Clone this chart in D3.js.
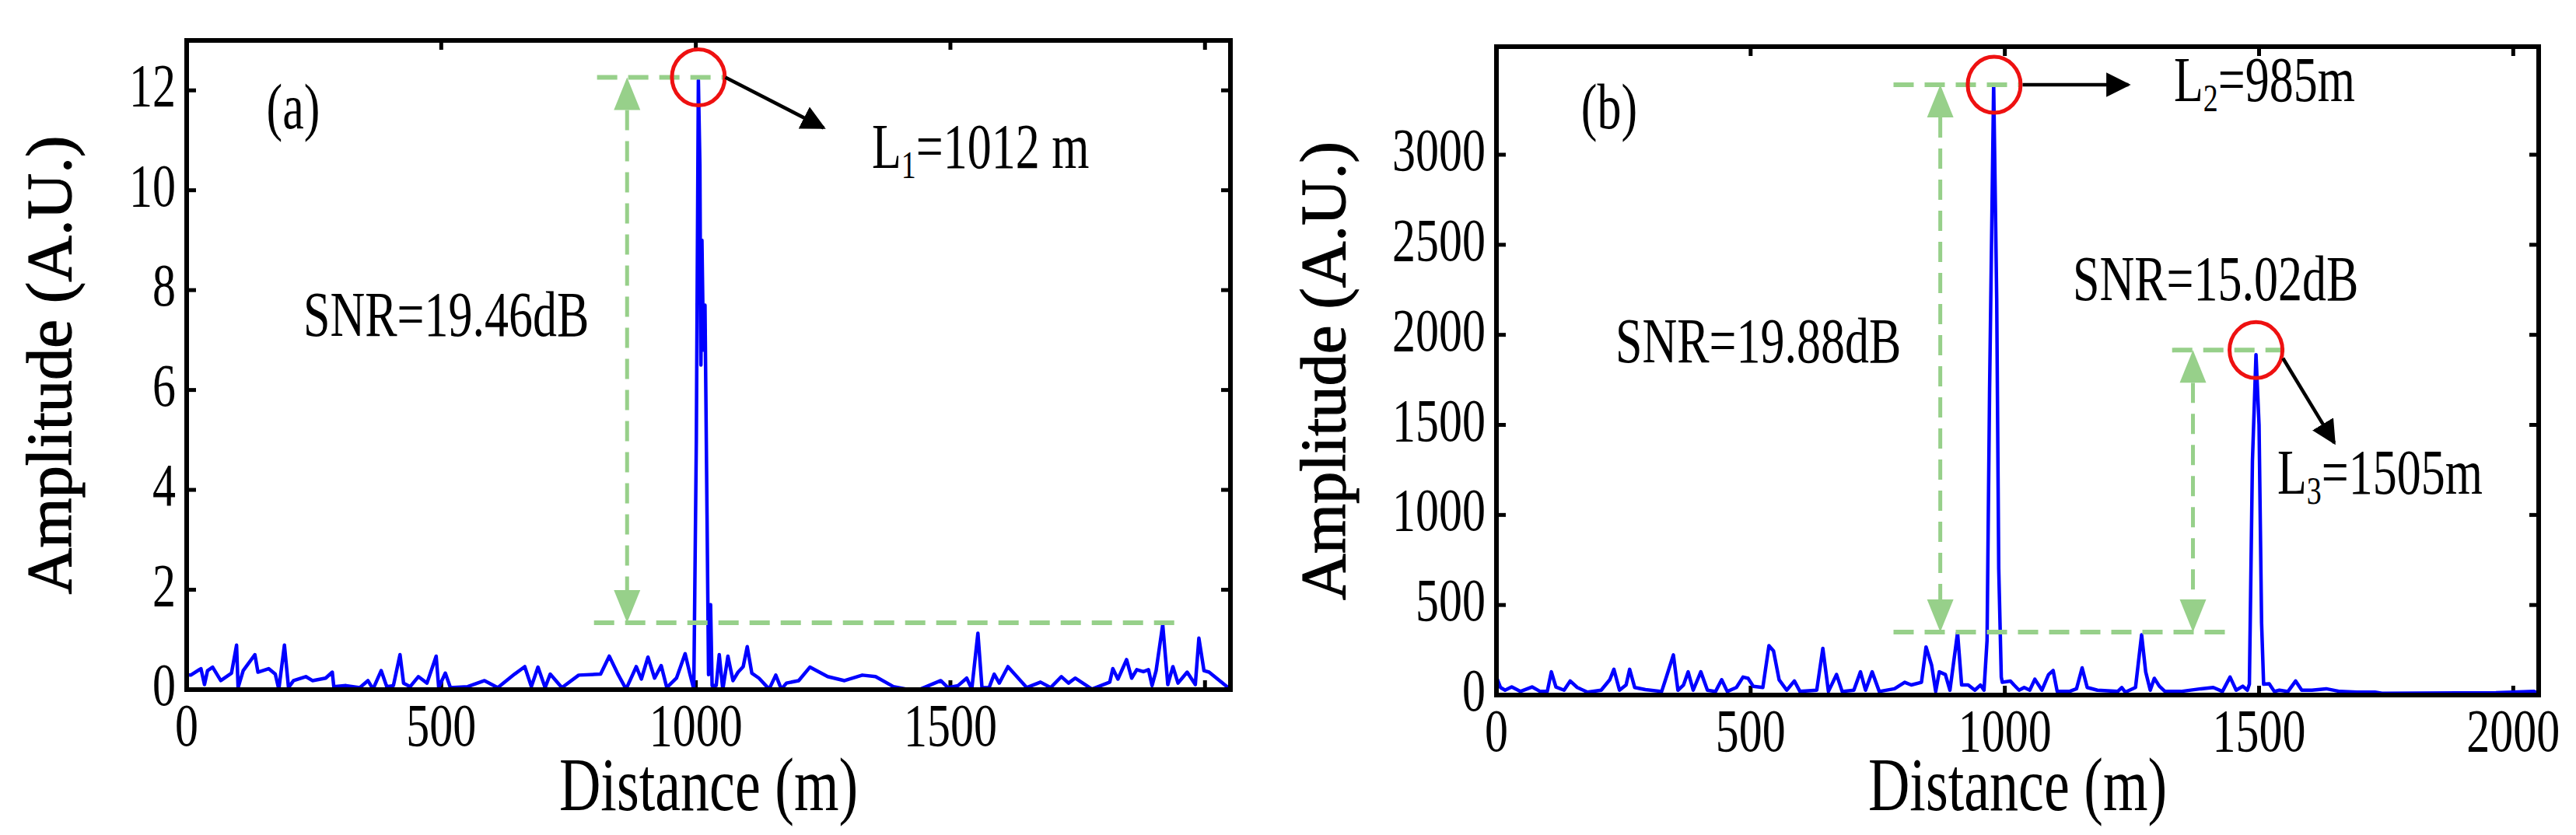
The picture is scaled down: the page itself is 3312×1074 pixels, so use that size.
<!DOCTYPE html>
<html>
<head>
<meta charset="utf-8">
<script src="https://cdn.jsdelivr.net/npm/d3@7"></script>
<style>
  body { margin: 0; background: #fff; }
  text { font-family: "Liberation Serif", "DejaVu Serif", serif; fill: #000; }
</style>
</head>
<body>
<svg id="chart" width="3312" height="1074"></svg>
<script>
// ---------------- data ----------------
const distA = [0,8,28,35,41,51,67,88,98,101,111,134,140,161,174,181,192,200,210,234,247,273,286,289,313,340,356,366,382,393,406,419,426,439,455,472,490,495,508,518,552,585,611,644,664,677,690,704,714,737,770,813,830,846,863,883,893,906,919,932,943,962,979,988,996,
  1001,1005,1008,1010,1012,1015,1018,1022,1025,1029,1032,
  1040,1046,1053,1063,1073,1083,1093,1101,1110,1124,1144,1157,1168,1178,1202,1224,1259,1292,1327,1353,1388,1414,1441,1481,1495,1515,1532,1542,1554,1562,1576,1586,1596,1613,1650,1677,1697,1718,1732,1745,1778,1813,1819,1829,1846,1856,1866,1879,1889,1896,1904,1917,1927,1937,1947,1965,1981,1988,1998,2008,2049];
const ampA = [.30,.29,.42,.10,.38,.45,.18,.33,.89,.04,.38,.70,.35,.42,.31,.01,.89,.04,.18,.26,.18,.23,.35,.06,.08,.04,.18,.01,.38,.06,.08,.70,.13,.06,.26,.13,.67,.04,.33,.04,.06,.18,.04,.31,.46,.06,.45,.04,.31,.04,.29,.31,.67,.33,.01,.46,.21,.65,.23,.48,.04,.23,.72,.33,.01,
  5,12.2,10.5,6.5,9.0,6.8,7.7,3.5,0.3,1.7,.08,
  .08,.70,0,.67,.18,.35,.46,.86,.33,.23,.01,.29,.01,.13,.18,.45,.26,.18,.29,.26,.06,.01,.01,.18,.04,.08,.23,.01,1.13,.04,.04,.31,.13,.46,.04,.15,.04,.26,.13,.23,.01,.15,.42,.21,.60,.23,.40,.36,.40,.08,.38,1.30,.10,.46,.13,.35,.10,1.03,.38,.35,.01];

const distB = [0,8,17,30,47,70,86,100,108,117,133,145,159,179,206,223,231,242,255,262,272,293,325,335,348,357,368,377,387,402,415,431,443,454,472,485,495,505,524,536,545,556,571,586,597,630,642,653,669,680,703,716,726,739,753,783,803,816,836,845,856,864,871,883,892,907,915,928,941,952,959,965,
  970,978,984,988,993,
  995,1011,1018,1028,1038,1049,1059,1073,1086,1095,1103,1127,1141,1152,1162,1182,1222,1230,1237,1257,1269,1277,1286,1294,1304,1315,1346,1386,1410,1428,1443,1455,1468,1477,
  1481,1487,1494,1500,1505,1509,
  1520,1530,1540,1557,1572,1584,1604,1632,1659,1693,1728,1742,1966,2041,2049];
const ampB = [100,42,27,45,20,45,20,20,129,45,27,78,42,16,27,85,143,27,56,143,42,30,20,107,223,27,56,129,27,129,27,20,85,20,42,100,93,49,42,274,245,85,27,78,20,27,259,20,114,20,27,129,27,129,20,35,71,56,71,267,165,20,129,114,27,346,56,56,27,56,27,303,
  1700,3390,2200,700,100,
  71,78,56,27,42,27,88,27,114,136,20,20,35,151,42,27,20,42,16,42,335,129,27,93,49,20,20,35,42,20,100,27,49,27,
  60,1300,1890,1500,400,60,
  63,20,27,20,78,27,27,35,20,16,16,10,13,20,10];

const xTicks = [0, 500, 1000, 1500, 2000];
const yTicksA = [0, 2, 4, 6, 8, 10, 12];
const yTicksB = [0, 500, 1000, 1500, 2000, 2500, 3000];

// annotations in data units
const panels = [
  {
    dist: distA, amp: ampA, yMax: 13, yTicks: yTicksA, xLabels: [0, 500, 1000, 1500],
    left: 240, right: 1582, top: 52, bottom: 887, tag: '(a)', tagX: 377, ylabX: 62,
    circles: [[1005, 12.26]],
    dashes: [[806, 1058, 12.26], [800, 1951, 1.34]],
    vArrows: [[865, 12.26, 1.34]],
    arrows: [[1058, 12.26, 1251, 11.25]],
    labels: [
      {x: 1121, y: 216, parts: ['L', '1', '=1012 m']},
      {x: 390, y: 432, parts: ['SNR=19.46dB']}
    ]
  },
  {
    dist: distB, amp: ampB, yMax: 3600, yTicks: yTicksB, xLabels: xTicks,
    left: 1924, right: 3264, top: 60, bottom: 894, tag: '(b)', tagX: 2069, ylabX: 1700,
    circles: [[979, 3388], [1494, 1915]],
    dashes: [[781, 1032, 3388], [781, 1437, 350], [1329, 1550, 1915]],
    vArrows: [[873, 3388, 350], [1370, 1915, 350]],
    arrows: [[1035, 3388, 1243, 3388], [1547, 1870, 1648, 1400]],
    labels: [
      {x: 2795, y: 130, parts: ['L', '2', '=985m']},
      {x: 2077, y: 466, parts: ['SNR=19.88dB']},
      {x: 2665, y: 386, parts: ['SNR=15.02dB']},
      {x: 2928, y: 635, parts: ['L', '3', '=1505m']}
    ]
  }
];

const svg = d3.select('#chart');
const defs = svg.append('defs');
defs.append('marker').attr('id', 'blackHead')
  .attr('viewBox', '0 0 10 10').attr('refX', 9).attr('refY', 5)
  .attr('markerWidth', 7).attr('markerHeight', 7).attr('markerUnits', 'strokeWidth')
  .attr('orient', 'auto')
  .append('path').attr('d', 'M0,0 L10,5 L0,10 Z').attr('fill', '#000');

const green = '#97d08a';
const tickLen = 12;
const stretch = 1.32; // text in the figure is taller than it is wide

// text placed at (x, y) baseline, stretched vertically
const addText = (g, px, py, size, anchor, str) =>
  g.append('text').attr('transform', `translate(${px},${py}) scale(1,${stretch})`)
    .attr('text-anchor', anchor).attr('font-size', size).text(str);

panels.forEach(p => {
  const x = d3.scaleLinear().domain([0, 2050]).range([p.left, p.right]);
  const y = d3.scaleLinear().domain([0, p.yMax]).range([p.bottom, p.top]);
  const g = svg.append('g');

  // ticks (inward, mirrored)
  xTicks.forEach(t => {
    g.append('line').attr('x1', x(t)).attr('x2', x(t)).attr('y1', p.bottom).attr('y2', p.bottom - tickLen)
      .attr('stroke', '#000').attr('stroke-width', 5);
    g.append('line').attr('x1', x(t)).attr('x2', x(t)).attr('y1', p.top).attr('y2', p.top + tickLen)
      .attr('stroke', '#000').attr('stroke-width', 5);
  });
  p.yTicks.forEach(t => {
    g.append('line').attr('x1', p.left).attr('x2', p.left + tickLen).attr('y1', y(t)).attr('y2', y(t))
      .attr('stroke', '#000').attr('stroke-width', 5);
    g.append('line').attr('x1', p.right).attr('x2', p.right - tickLen).attr('y1', y(t)).attr('y2', y(t))
      .attr('stroke', '#000').attr('stroke-width', 5);
    addText(g, p.left - 14, y(t) + 20, 60, 'end', t);
  });
  p.xLabels.forEach(t => addText(g, x(t), p.bottom + 72, 60, 'middle', t));

  // signal
  const line = d3.line().x((d, i) => x(p.dist[i])).y(d => y(d));
  g.append('path').datum(p.amp).attr('d', line)
    .attr('fill', 'none').attr('stroke', '#0000ff').attr('stroke-width', 4.5)
    .attr('stroke-linejoin', 'round');

  // frame
  g.append('rect').attr('x', p.left).attr('y', p.top)
    .attr('width', p.right - p.left).attr('height', p.bottom - p.top)
    .attr('fill', 'none').attr('stroke', '#000').attr('stroke-width', 6);

  // green dashed guides
  p.dashes.forEach(([a, b, v]) => {
    g.append('line').attr('x1', x(a)).attr('x2', x(b)).attr('y1', y(v)).attr('y2', y(v))
      .attr('stroke', green).attr('stroke-width', 6).attr('stroke-dasharray', '26,14');
  });
  p.vArrows.forEach(([d, v1, v2]) => {
    const cx = x(d), y1 = y(v1), y2 = y(v2), hw = 17, hl = 42;
    g.append('line').attr('x1', cx).attr('x2', cx).attr('y1', y1 + hl).attr('y2', y2 - hl)
      .attr('stroke', green).attr('stroke-width', 5).attr('stroke-dasharray', '26,14');
    g.append('path').attr('d', `M${cx},${y1} L${cx - hw},${y1 + hl} L${cx + hw},${y1 + hl} Z`).attr('fill', green);
    g.append('path').attr('d', `M${cx},${y2} L${cx - hw},${y2 - hl} L${cx + hw},${y2 - hl} Z`).attr('fill', green);
  });

  // red circles
  p.circles.forEach(([d, v]) => {
    g.append('ellipse').attr('cx', x(d)).attr('cy', y(v)).attr('rx', 34).attr('ry', 36)
      .attr('fill', 'none').attr('stroke', '#ee1111').attr('stroke-width', 5);
  });

  // black arrows
  p.arrows.forEach(([d1, v1, d2, v2]) => {
    g.append('line').attr('x1', x(d1)).attr('y1', y(v1)).attr('x2', x(d2)).attr('y2', y(v2))
      .attr('stroke', '#000').attr('stroke-width', 4.5).attr('marker-end', 'url(#blackHead)');
  });

  // text labels
  addText(g, p.tagX, 165, 62, 'middle', p.tag);
  p.labels.forEach(l => {
    const t = addText(g, l.x, l.y, 62, 'start', l.parts.length === 1 ? l.parts[0] : null);
    if (l.parts.length > 1) {
      t.append('tspan').text(l.parts[0]);
      t.append('tspan').attr('font-size', 38).attr('dy', 10).text(l.parts[1]);
      t.append('tspan').attr('dy', -10).text(l.parts[2]);
    }
  });

  // axis titles
  addText(g, (p.left + p.right) / 2, 1042, 74, 'middle', 'Distance (m)');
  g.append('text').attr('transform', `translate(${p.ylabX},${(p.top + p.bottom) / 2}) rotate(-90)`)
    .attr('text-anchor', 'middle').attr('dy', '0.35em').attr('font-size', 82)
    .attr('textLength', 590).attr('lengthAdjust', 'spacingAndGlyphs')
    .attr('stroke', '#000').attr('stroke-width', 1.2)
    .text('Amplitude (A.U.)');
});
</script>
</body>
</html>
